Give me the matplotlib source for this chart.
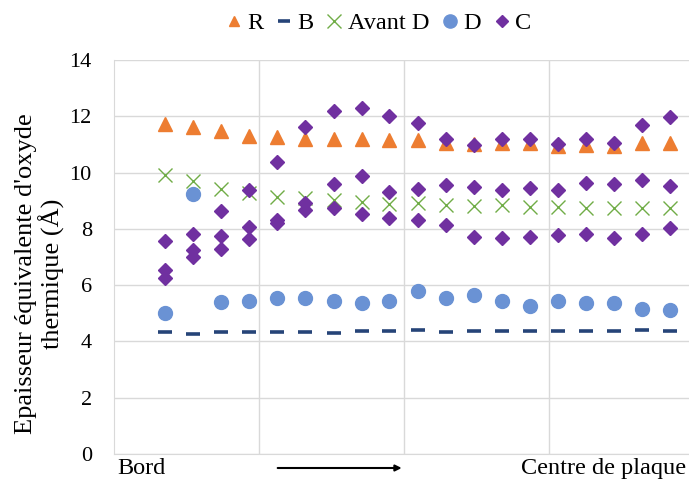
import matplotlib.pyplot as plt
from matplotlib.lines import Line2D

# positions along the wafer (arbitrary units, gridlines every 5)
x = [1.76, 2.73, 3.70, 4.66, 5.63, 6.60, 7.57, 8.54, 9.50, 10.47,
     11.44, 12.41, 13.38, 14.35, 15.31, 16.28, 17.25, 18.22, 19.19]

R = [11.73, 11.62, 11.46, 11.31, 11.25, 11.19, 11.19, 11.19, 11.15, 11.14,
     11.04, 11.00, 11.04, 11.04, 10.96, 10.97, 10.95, 11.04, 11.06]
B = [4.34, 4.28, 4.35, 4.33, 4.34, 4.34, 4.31, 4.36, 4.37, 4.40,
     4.34, 4.37, 4.37, 4.36, 4.36, 4.37, 4.37, 4.40, 4.38]
avant_D = [9.90, 9.70, 9.43, 9.29, 9.14, 9.11, 9.02, 8.96, 8.89, 8.93,
           8.85, 8.81, 8.85, 8.77, 8.77, 8.75, 8.73, 8.73, 8.73]
D = [5.00, 9.25, 5.41, 5.43, 5.54, 5.56, 5.43, 5.36, 5.43, 5.79,
     5.55, 5.66, 5.44, 5.25, 5.44, 5.37, 5.35, 5.14, 5.10]
C_top = [7.58, 7.80, 8.65, 9.37, 10.36, 11.61, 12.20, 12.30, 12.00, 11.76,
         11.19, 10.98, 11.18, 11.19, 11.01, 11.21, 11.06, 11.69, 11.96]
C_mid = [6.55, 7.26, 7.74, 8.07, 8.33, 8.93, 9.61, 9.89, 9.30, 9.40,
         9.56, 9.49, 9.37, 9.44, 9.37, 9.63, 9.61, 9.75, 9.52]
C_low = [6.27, 7.00, 7.29, 7.64, 8.21, 8.67, 8.73, 8.54, 8.39, 8.30,
         8.13, 7.71, 7.68, 7.70, 7.79, 7.82, 7.68, 7.83, 8.02]

orange = '#ED7D31'
navy = '#264478'
green = '#70AD47'
blue = '#6A92D4'
purple = '#7030A0'

plt.rcParams['font.family'] = ['Liberation Serif', 'DejaVu Serif']

fig = plt.figure(figsize=(6.89, 4.8), dpi=100)
ax = fig.add_axes([0.1655, 0.0542, 0.8345, 0.8208])

ax.plot(x, R, '^', color=orange, ms=9.5, ls='none')
ax.plot(x, B, '_', color=navy, ms=10, mew=2.6, ls='none')
ax.plot(x, avant_D, 'x', color=green, ms=9.5, mew=1, ls='none')
ax.plot(x, D, 'o', color=blue, ms=10, ls='none')
for c in [C_top, C_mid, C_low]:
    ax.plot(x, c, 'D', color=purple, ms=6.8, ls='none')

ax.set_xlim(0, 19.83)
ax.set_ylim(0, 14)
ax.set_yticks(range(0, 15, 2))
ax.set_xticks([5, 10, 15])
ax.set_xticklabels([])
ax.tick_params(length=0, labelsize=16, pad=16)
ax.grid(True, color='#d9d9d9', lw=1)
ax.set_axisbelow(True)
for s in ['top', 'right']:
    ax.spines[s].set_visible(False)
for s in ['left', 'bottom']:
    ax.spines[s].set_color('#d9d9d9')

fig.text(40 / 689, 1 - 274 / 480, "Epaisseur équivalente d'oxyde\nthermique (Å)",
         rotation=90, ha='center', va='center', multialignment='center',
         fontsize=19, linespacing=1.05)

fig.text(0.170, 0.012, 'Bord', fontsize=17.5, va='baseline')
fig.text(0.9956, 0.012, 'Centre de plaque', fontsize=17.5, ha='right', va='baseline')
fig.add_artist(plt.Annotation('', xy=(0.587, 0.025), xytext=(0.399, 0.025),
                              xycoords='figure fraction',
                              arrowprops=dict(arrowstyle='-|>', color='black', lw=1.5,
                                              mutation_scale=9)))

handles = [
    Line2D([], [], marker='^', color=orange, ms=7, ls='none'),
    Line2D([], [], marker='_', color=navy, ms=8, mew=2.6, ls='none'),
    Line2D([], [], marker='x', color=green, ms=9.5, mew=1, ls='none'),
    Line2D([], [], marker='o', color=blue, ms=9.5, ls='none'),
    Line2D([], [], marker='D', color=purple, ms=5.8, ls='none'),
]
labels = ['R', 'B', 'Avant D', 'D', 'C']
fig.legend(handles, labels, loc='center', bbox_to_anchor=(0.549, 0.952), ncol=5,
           frameon=False, fontsize=17.5, handletextpad=0.2, columnspacing=0.5,
           handlelength=0.7, borderpad=0)

fig.savefig('out.png', dpi=100)
